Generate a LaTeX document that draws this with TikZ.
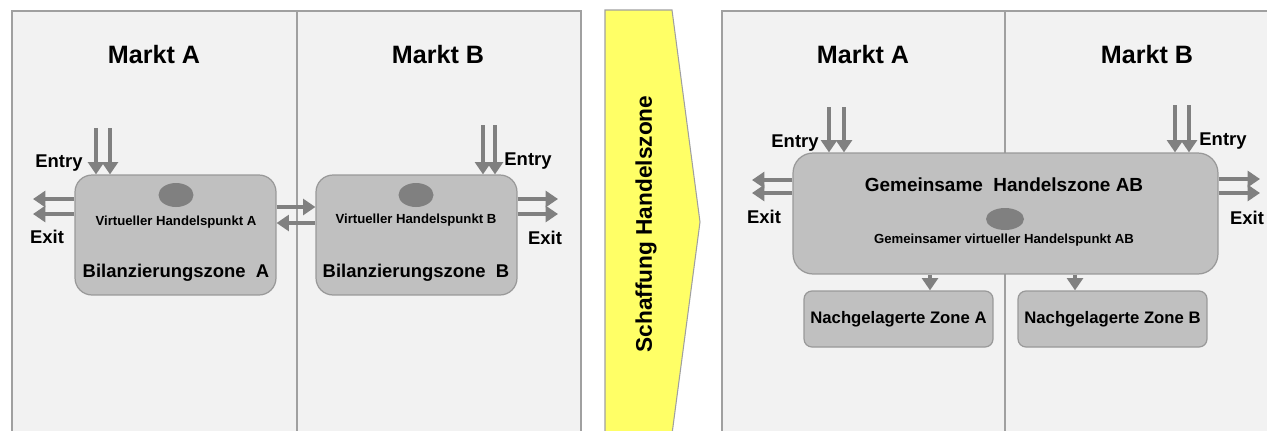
\documentclass[tikz,border=0pt]{standalone}
\usepackage{fontspec}
\setmainfont{Liberation Sans}
\usetikzlibrary{arrows.meta,shapes.geometric}
\definecolor{panelfill}{HTML}{F2F2F2}
\definecolor{panelline}{HTML}{A0A0A0}
\definecolor{zonefill}{HTML}{C0C0C0}
\definecolor{zoneline}{HTML}{999999}
\definecolor{flowgray}{HTML}{808080}
\definecolor{stepyellow}{HTML}{FFFF66}
\tikzset{
  panel/.style={fill=panelfill, draw=panelline, line width=0.6pt},
  divider/.style={draw=panelline, line width=0.8pt},
  zone/.style={draw=zoneline, fill=zonefill, line width=0.7pt, rounded corners=0.34cm, inner sep=0pt},
  subzone/.style={draw=zoneline, fill=zonefill, line width=0.7pt, rounded corners=0.16cm, inner sep=0pt,
    minimum width=3.78cm, minimum height=1.12cm, font=\bfseries\fontsize{9.5}{11}\selectfont},
  hub/.style={ellipse, fill=flowgray, inner sep=0pt},
  flow/.style={draw=flowgray, line width=2.8pt, -{Triangle[width=9pt,length=7pt]}},
  title/.style={font=\bfseries\fontsize{14.3}{16}\selectfont, inner sep=0pt},
  lbl/.style={font=\bfseries\fontsize{10.5}{12}\selectfont, inner sep=0pt},
  small/.style={font=\bfseries\fontsize{7.5}{9}\selectfont, inner sep=0pt},
}
\begin{document}
\begin{tikzpicture}[x=0.02cm, y=-0.02cm]
\useasboundingbox (0,0) rectangle (1267,430);
\clip (0,0) rectangle (1267,430);

% ---- left side: two separate markets ----
\path[panel] (12,11) rectangle (581,436);
\draw[divider] (297,11) -- (297,436);
\node[title] (mA) at (154,55) {Markt A};
\node[title] (mB) at (438,55) {Markt B};

\node[zone, minimum width=4.02cm, minimum height=2.4cm] (A) at (175.5,235) {};
\node[zone, minimum width=4.02cm, minimum height=2.4cm] (B) at (416.5,235) {};
\node[hub, minimum width=0.7cm, minimum height=0.48cm] (hA) at (176,195) {};
\node[hub, minimum width=0.7cm, minimum height=0.48cm] (hB) at (416,195) {};
\node[small] (vA) at (176,222) {Virtueller Handelspunkt A};
\node[small] (vB) at (416,220) {Virtueller Handelspunkt B};
\node[lbl] (bA) at (176,273) {Bilanzierungszone\ \ A};
\node[lbl] (bB) at (416,273) {Bilanzierungszone\ \ B};

% entry into zone A
\coordinate (eA1) at (96,128);
\coordinate (eA2) at (110,128);
\draw[flow] (eA1) -- (eA1 |- A.north);
\draw[flow] (eA2) -- (eA2 |- A.north);
\node[lbl] (enA) at (59,163) {Entry};
% exit from zone A
\coordinate (xA1) at (33,199);
\coordinate (xA2) at (33,214);
\draw[flow] (xA1 -| A.west) -- (xA1);
\draw[flow] (xA2 -| A.west) -- (xA2);
\node[lbl] (exA) at (47,237) {Exit};

% exchange between A and B
\coordinate (ab1) at (0,207);
\coordinate (ab2) at (0,223);
\draw[flow] (A.east |- ab1) -- (B.west |- ab1);
\draw[flow] (B.west |- ab2) -- (A.east |- ab2);

% entry into zone B
\coordinate (eB1) at (483,125);
\coordinate (eB2) at (495,125);
\draw[flow] (eB1) -- (eB1 |- B.north);
\draw[flow] (eB2) -- (eB2 |- B.north);
\node[lbl] (enB) at (528,161) {Entry};
% exit from zone B
\coordinate (xB1) at (558,199);
\coordinate (xB2) at (558,214);
\draw[flow] (xB1 -| B.east) -- (xB1);
\draw[flow] (xB2 -| B.east) -- (xB2);
\node[lbl] (exB) at (545,238) {Exit};

% ---- transition step ----
\path[fill=stepyellow, draw=panelline, line width=0.6pt]
  (605,10) -- (672,10) -- (700,222) -- (672,434) -- (605,434) -- cycle;
\node[font=\bfseries\fontsize{12.9}{14}\selectfont, rotate=90, inner sep=0pt] (step1) at (646,224) {Schaffung Handelszone};

% ---- right side: common trading zone ----
\path[panel] (722,11) rectangle (1280,436);
\draw[divider] (1005,11) -- (1005,436);
\node[title] (mA2) at (863,55) {Markt A};
\node[title] (mB2) at (1147,55) {Markt B};

\node[zone, rounded corners=0.4cm, minimum width=8.5cm, minimum height=2.42cm] (AB) at (1005.5,213.5) {};
\node[lbl, font=\bfseries\fontsize{10.8}{12}\selectfont] (gAB) at (1004,185) {Gemeinsame\ \ Handelszone AB};
\node[hub, minimum width=0.76cm, minimum height=0.44cm] (hAB) at (1005,219) {};
\node[small] (vAB) at (1004,240) {Gemeinsamer virtueller Handelspunkt AB};

% entries into the common zone
\coordinate (eC1) at (829,107);
\coordinate (eC2) at (844,107);
\draw[flow] (eC1) -- (eC1 |- AB.north);
\draw[flow] (eC2) -- (eC2 |- AB.north);
\node[lbl] (enC) at (795,143) {Entry};
\coordinate (eD1) at (1175,105);
\coordinate (eD2) at (1189,105);
\draw[flow] (eD1) -- (eD1 |- AB.north);
\draw[flow] (eD2) -- (eD2 |- AB.north);
\node[lbl] (enD) at (1223,141) {Entry};

% exits from the common zone
\coordinate (xC1) at (752,180);
\coordinate (xC2) at (752,193);
\draw[flow] (xC1 -| AB.west) -- (xC1);
\draw[flow] (xC2 -| AB.west) -- (xC2);
\node[lbl] (exC) at (764,217) {Exit};
\coordinate (xD1) at (1260,179);
\coordinate (xD2) at (1260,193);
\draw[flow] (xD1 -| AB.east) -- (xD1);
\draw[flow] (xD2 -| AB.east) -- (xD2);
\node[lbl] (exD) at (1247,218) {Exit};

% downstream zones
\node[subzone] (ZA) at (898.5,319) {Nachgelagerte Zone A};
\node[subzone] (ZB) at (1112.5,319) {Nachgelagerte Zone B};
\coordinate (dA) at (930,0);
\coordinate (dB) at (1075,0);
\draw[flow] (AB.south -| dA) -- (ZA.north -| dA);
\draw[flow] (AB.south -| dB) -- (ZB.north -| dB);
\end{tikzpicture}
\end{document}
